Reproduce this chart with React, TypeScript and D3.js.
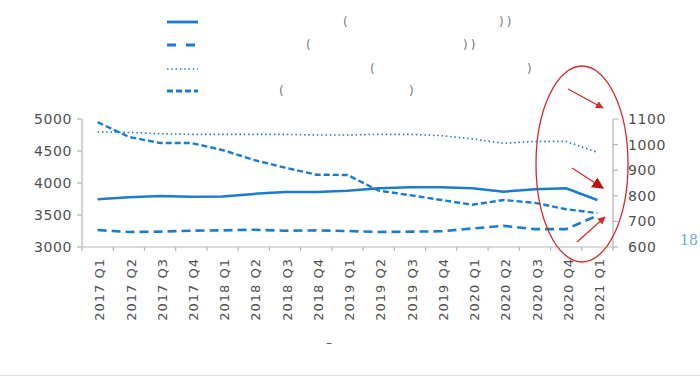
import React from "react";
import * as d3 from "d3";

const categories = [
  "2017 Q1", "2017 Q2", "2017 Q3", "2017 Q4",
  "2018 Q1", "2018 Q2", "2018 Q3", "2018 Q4",
  "2019 Q1", "2019 Q2", "2019 Q3", "2019 Q4",
  "2020 Q1", "2020 Q2", "2020 Q3", "2020 Q4",
  "2021 Q1",
];
const solidSeries = [3745, 3777, 3797, 3786, 3790, 3830, 3860, 3860, 3880, 3917, 3935, 3935, 3917, 3864, 3902, 3917, 3734];
const longDashSeries = [3265, 3235, 3240, 3255, 3260, 3270, 3255, 3260, 3250, 3235, 3240, 3245, 3290, 3330, 3280, 3280, 3490];
const dottedSeries = [4800, 4790, 4770, 4760, 4760, 4760, 4760, 4750, 4750, 4760, 4760, 4740, 4690, 4620, 4650, 4650, 4480];
const denseDashSeries = [4950, 4720, 4625, 4625, 4515, 4360, 4240, 4130, 4125, 3880, 3810, 3735, 3660, 3735, 3690, 3590, 3530];
const leftTicks = [3000, 3500, 4000, 4500, 5000];
const rightTicks = [600, 700, 800, 900, 1000, 1100];

const BLUE = "#1a7bd0";
const AXIS = "#b5b5b5";
const TXT = "#505050";
const FONT = "'DejaVu Sans', sans-serif";

export default function App() {
  const x = d3.scaleBand<string>().domain(categories).range([82, 613]);
  const yL = d3.scaleLinear().domain([3000, 5000]).range([247, 119]);
  const yR = d3.scaleLinear().domain([600, 1100]).range([247, 119]);
  const cx = (c: string) => (x(c) as number) + x.bandwidth() / 2;
  const line = d3
    .line<number>()
    .x((_, i) => cx(categories[i]))
    .y((d) => yL(d));

  const series = [
    { data: solidSeries, dash: undefined, w: 2.5 },
    { data: longDashSeries, dash: "9,5", w: 2.6 },
    { data: dottedSeries, dash: "1.5,2.8", w: 1.6 },
    { data: denseDashSeries, dash: "6,3", w: 2.4 },
  ];

  const legendRows = [
    { y: 22, dash: undefined, w: 2.8, open: 343, close: 499, closeTxt: "))" },
    { y: 45, dash: "9,10", w: 2.8, open: 306, close: 463, closeTxt: "))" },
    { y: 69, dash: "1.5,2.8", w: 1.6, open: 370, close: 527, closeTxt: ")" },
    { y: 91, dash: "6,3", w: 2.8, open: 279, close: 409, closeTxt: ")" },
  ];

  const boundaries = categories.map((c) => x(c) as number).concat([613]);

  return (
    <svg
      width={700}
      height={377}
      style={{ position: "absolute", left: 0, top: 0, background: "#fff" }}
      fontFamily={FONT}
    >
      {/* legend */}
      {legendRows.map((r, i) => (
        <g key={i}>
          <line x1={167} x2={198} y1={r.y} y2={r.y} stroke={BLUE} strokeWidth={r.w} strokeDasharray={r.dash} />
          <text x={r.open} y={r.y + 4} fontSize={12} fill="#777">(</text>
          <text x={r.close} y={r.y + 4} fontSize={12} fill="#777" letterSpacing={3}>{r.closeTxt}</text>
        </g>
      ))}

      {/* left axis */}
      <line x1={82} x2={82} y1={119} y2={247} stroke={AXIS} strokeWidth={1.2} />
      {leftTicks.map((t) => (
        <g key={t}>
          <line x1={77} x2={82} y1={yL(t)} y2={yL(t)} stroke={AXIS} strokeWidth={1.2} />
          <text x={72} y={yL(t)} dy="0.36em" textAnchor="end" fontSize={14} fill={TXT} letterSpacing={0.6}>
            {t}
          </text>
        </g>
      ))}

      {/* right axis */}
      <line x1={613} x2={613} y1={119} y2={247} stroke={AXIS} strokeWidth={1.2} />
      {rightTicks.map((t) => (
        <g key={t}>
          <line x1={613} x2={618} y1={yR(t)} y2={yR(t)} stroke={AXIS} strokeWidth={1.2} />
          <text x={628} y={yR(t)} dy="0.36em" fontSize={14} fill={TXT} letterSpacing={0.6}>
            {t}
          </text>
        </g>
      ))}

      {/* x axis */}
      <line x1={82} x2={613} y1={247} y2={247} stroke={AXIS} strokeWidth={1.2} />
      {boundaries.map((b, i) => (
        <line key={i} x1={b} x2={b} y1={247} y2={251} stroke={AXIS} strokeWidth={1.2} />
      ))}
      {categories.map((c) => (
        <text
          key={c}
          transform={`translate(${cx(c) + 2},258) rotate(-90)`}
          dy="0.36em"
          textAnchor="end"
          fontSize={13}
          fill={TXT}
          letterSpacing={1}
        >
          {c}
        </text>
      ))}

      {/* series */}
      {series.map((s, i) => (
        <path
          key={i}
          d={line(s.data) as string}
          fill="none"
          stroke={BLUE}
          strokeWidth={s.w}
          strokeDasharray={s.dash}
        />
      ))}

      {/* annotations */}
      <ellipse cx={582} cy={164} rx={46} ry={98} fill="none" stroke="#d42a2a" strokeWidth={1.3} />
      <defs>
        <marker id="ah" viewBox="0 0 10 10" refX={9} refY={5} markerWidth={6} markerHeight={6} orient="auto">
          <path d="M0,0 L10,5 L0,10 z" fill="#d42a2a" />
        </marker>
        <marker id="ah2" viewBox="0 0 10 10" refX={9} refY={5} markerWidth={9} markerHeight={9} orient="auto">
          <path d="M0,0 L10,5 L0,10 z" fill="#c01010" />
        </marker>
      </defs>
      <line x1={568} y1={89} x2={603} y2={108} stroke="#d42a2a" strokeWidth={1.3} markerEnd="url(#ah)" />
      <line x1={572} y1={168} x2={603} y2={188} stroke="#d42a2a" strokeWidth={1.3} markerEnd="url(#ah2)" />
      <line x1={577} y1={242} x2={605} y2={217} stroke="#d42a2a" strokeWidth={1.3} markerEnd="url(#ah)" />

      <text x={680} y={245} fontSize={14} fill="#6aaad8" fontFamily="'DejaVu Serif', serif">
        18
      </text>
      <text x={326} y={347} fontSize={12} fill="#555">–</text>
      <line x1={0} x2={700} y1={375.5} y2={375.5} stroke="#ddd" strokeWidth={1} />
    </svg>
  );
}
